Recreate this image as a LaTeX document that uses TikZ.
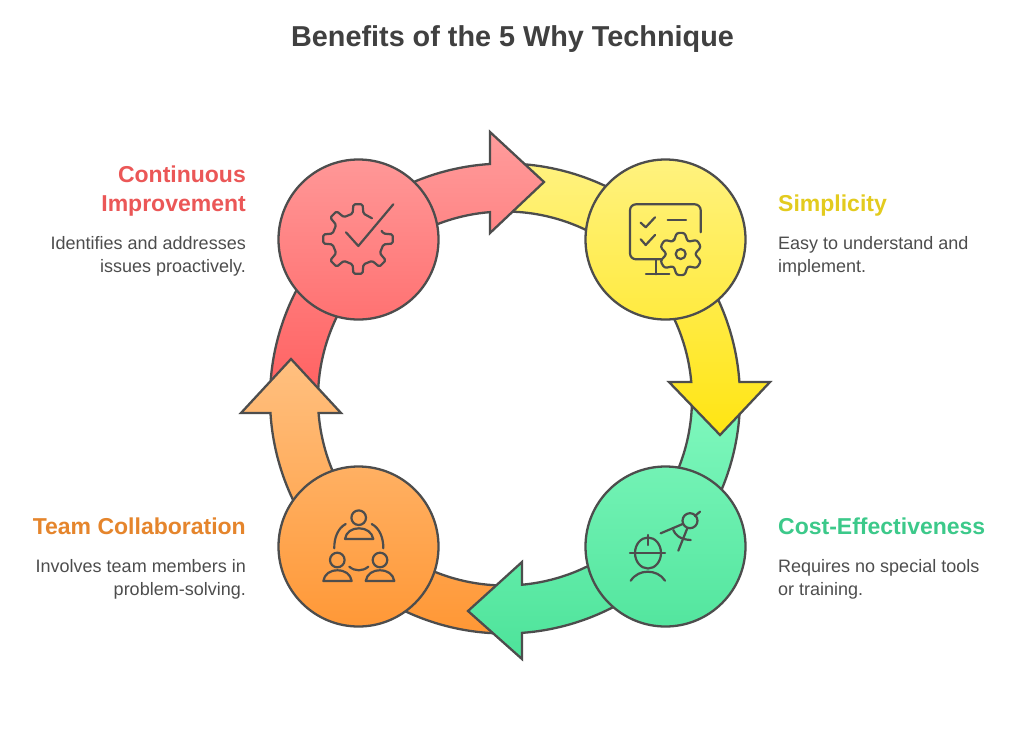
\documentclass[tikz,border=0pt]{standalone}
\usepackage{fontspec}
\setmainfont{Liberation Sans}
\definecolor{ink}{HTML}{4D4D4D}
\definecolor{titleink}{HTML}{404040}
\definecolor{redA}{HTML}{FF9C9C}\definecolor{redB}{HTML}{FF6060}
\definecolor{yelA}{HTML}{FFF27F}\definecolor{yelB}{HTML}{FFE512}
\definecolor{grnA}{HTML}{80F8BE}\definecolor{grnB}{HTML}{4DE39A}
\definecolor{ornA}{HTML}{FFC080}\definecolor{ornB}{HTML}{FF9633}
\definecolor{redH}{HTML}{EB5757}\definecolor{yelH}{HTML}{E3CB1E}
\definecolor{grnH}{HTML}{3CC98A}\definecolor{ornH}{HTML}{E5852C}
\newcommand\OutR{235}
\newcommand\InR{187}
% fill a path with a gradient fixed in picture height, then outline it
\newcommand\bandshape[5]{%
  \begin{scope}\clip #5;
    \shade[shift={(-505,-398.5)},top color=#1,bottom color=#2] (0,#3) rectangle (1024,#4);
  \end{scope}
  \draw[bandline] #5;}
\newcommand\tailpath[2]{(#1:\OutR) arc[start angle=#1,end angle=#2,radius=\OutR] -- (#2:\InR) arc[start angle=#2,end angle=#1,radius=\InR] -- cycle}
\tikzset{
  bandline/.style={draw=ink,line width=2.3pt,line join=miter},
  disc/.style={circle,draw=ink,line width=2.3pt,minimum size=160pt,inner sep=0pt},
  icon/.style={draw=ink,line width=2.2pt,line cap=round,line join=round},
  ttl/.style={inner sep=0pt,anchor=base,font=\fontsize{28.8}{34}\selectfont\bfseries,text=titleink},
  headL/.style={inner sep=0pt,anchor=base east,font=\fontsize{23}{28}\selectfont\bfseries},
  headR/.style={inner sep=0pt,anchor=base west,font=\fontsize{23}{28}\selectfont\bfseries},
  bodyL/.style={inner sep=0pt,anchor=base east,font=\fontsize{18}{22}\selectfont,text=ink},
  bodyR/.style={inner sep=0pt,anchor=base west,font=\fontsize{18}{22}\selectfont,text=ink},
}
\begin{document}
\begin{tikzpicture}[x=1pt,y=-1pt]
\useasboundingbox (0,0) rectangle (1024,736);
\fill[white] (0,0) rectangle (1024,736);
\node[ttl] (title) at (512.5,46) {Benefits of the 5 Why Technique};

\begin{scope}[shift={(505,398.5)}]
% tails, lying under the head of the arrow before them
\bandshape{yelA}{yelB}{163}{435}{\tailpath{270}{315.3}}
\bandshape{grnA}{grnB}{398}{659}{\tailpath{360}{402.7}}
\bandshape{ornA}{ornB}{359}{640}{\tailpath{90}{134.7}}
\bandshape{redA}{redB}{132}{400}{\tailpath{180}{227.3}}
% fronts with heads
\bandshape{yelA}{yelB}{163}{435}{(315.3:\OutR) arc[start angle=315.3,end angle=355.97,radius=\OutR] -- (265,-16.5) -- (215,36.5) -- (164,-16.5) -- (354.94:\InR) arc[start angle=354.94,end angle=315.3,radius=\InR] -- cycle}
\bandshape{grnA}{grnB}{398}{659}{(42.7:\OutR) arc[start angle=42.7,end angle=85.85,radius=\OutR] -- (17,260.5) -- (-37,212.5) -- (17,163.5) -- (84.78:\InR) arc[start angle=84.78,end angle=42.7,radius=\InR] -- cycle}
\bandshape{ornA}{ornB}{359}{640}{(134.7:\OutR) arc[start angle=134.7,end angle=176.46,radius=\OutR] -- (-264,14.5) -- (-214,-39.5) -- (-164,14.5) -- (175.55:\InR) arc[start angle=175.55,end angle=134.7,radius=\InR] -- cycle}
\bandshape{redA}{redB}{132}{400}{(227.3:\OutR) arc[start angle=227.3,end angle=266.34,radius=\OutR] -- (-15,-266.5) -- (39,-216.5) -- (-15,-165.5) -- (265.4:\InR) arc[start angle=265.4,end angle=227.3,radius=\InR] -- cycle}
\end{scope}

\node[disc,top color=redA!92!redB,bottom color=redA!30!redB] (redc) at (358.5,239.5) {};
\node[disc,top color=yelA,bottom color=yelA!42!yelB] (yelc) at (665.5,239.5) {};
\node[disc,top color=grnA!74!grnB,bottom color=grnA!12!grnB] (grnc) at (665.5,546.5) {};
\node[disc,top color=ornA!62!ornB,bottom color=ornA!5!ornB] (ornc) at (358.5,546.5) {};

% gear and tick
\begin{scope}[shift={(358,239)}]
\draw[icon,rounded corners=1.5pt] (341:25) \foreach \t in {0,45,...,270} { -- (\t-12:26) -- (\t-7.5:35) -- (\t+7.5:35) -- (\t+12:26)} -- (304:25);
\end{scope}
\draw[icon] (346,232.3) -- (358.3,246) -- (393.3,204.3);

% monitor and gear
\draw[icon,rounded corners=6pt] (700.7,232.3) -- (700.7,204.3) -- (630,204.3) -- (630,259.3) -- (661.7,259.3);
\draw[icon] (655.7,259.3) -- (655.7,274.3) (646,274.3) -- (669.3,274.3);
\draw[icon] (667.7,220) -- (686,220);
\draw[icon] (640.7,222.7) -- (645.7,227.3) -- (655,217.3);
\draw[icon] (640.7,239.3) -- (645.7,245) -- (655,235);
\draw[icon] (680.7,254) circle[radius=5];
\begin{scope}[shift={(680.7,254)}]
\draw[icon,rounded corners=2.5pt] (240:14) \foreach \t in {270,330,...,570} { -- (\t-11:21.5) -- (\t+11:21.5) -- (\t+30:14)} -- cycle;
\end{scope}

% helmeted person and compass
\draw[icon] (648,553) ellipse[x radius=13,y radius=15.5];
\draw[icon] (630,552.7) -- (665,552.7);
\draw[icon] (647.7,535) -- (647.7,545);
\draw[icon] (630.7,580.7) .. controls (635,574.5) and (641,571.7) .. (647.7,571.7) .. controls (654.5,571.7) and (661,574.5) .. (665,580.7);
\draw[icon] (690,520.7) circle[radius=7.5];
\draw[icon] (695,516) -- (700,511.7);
\draw[icon] (660.7,533.3) -- (682.7,524);
\draw[icon] (678.3,550.7) -- (687.3,528.3);
\draw[icon] (673.3,530) .. controls (675,534) and (679,539.5) .. (690.7,540);

% three people
\draw[icon] (358.7,517.7) circle[radius=7.3];
\draw[icon] (345,539) .. controls (346,532) and (352,528.3) .. (359,528.3) .. controls (366,528.3) and (372,532) .. (373.3,539) -- cycle;
\draw[icon] (337.3,560) circle[radius=7.3];
\draw[icon] (323.3,581) .. controls (324.5,574) and (330,570.3) .. (337.5,570.3) .. controls (345,570.3) and (350.5,574) .. (351.7,581) -- cycle;
\draw[icon] (380,560) circle[radius=7.3];
\draw[icon] (365.7,581) .. controls (367,574) and (372.5,570.3) .. (380,570.3) .. controls (387.5,570.3) and (393,574) .. (394.3,581) -- cycle;
\draw[icon] (345.7,524) .. controls (338,528) and (334,538) .. (334.3,548.3);
\draw[icon] (371.7,524) .. controls (379.5,528) and (383.5,538) .. (383.3,548.3);
\draw[icon] (349.3,566.7) .. controls (355,571.5) and (362.5,571.5) .. (368.3,566.7);

% labels
\node[headL,text=redH] (contA) at (246,182) {Continuous};
\node[headL,text=redH] (contB) at (246,211) {Improvement};
\node[bodyL] (contC) at (246,249) {Identifies and addresses};
\node[bodyL] (contD) at (246,272) {issues proactively.};
\node[headR,text=yelH] (simA) at (778,211) {Simplicity};
\node[bodyR] (simB) at (778,249) {Easy to understand and};
\node[bodyR] (simC) at (778,272) {implement.};
\node[headR,text=grnH] (costA) at (778,534) {Cost-Effectiveness};
\node[bodyR] (costB) at (778,572) {Requires no special tools};
\node[bodyR] (costC) at (778,595) {or training.};
\node[headL,text=ornH] (teamA) at (246,534) {Team Collaboration};
\node[bodyL] (teamB) at (246,572) {Involves team members in};
\node[bodyL] (teamC) at (246,595) {problem-solving.};
\end{tikzpicture}
\end{document}
